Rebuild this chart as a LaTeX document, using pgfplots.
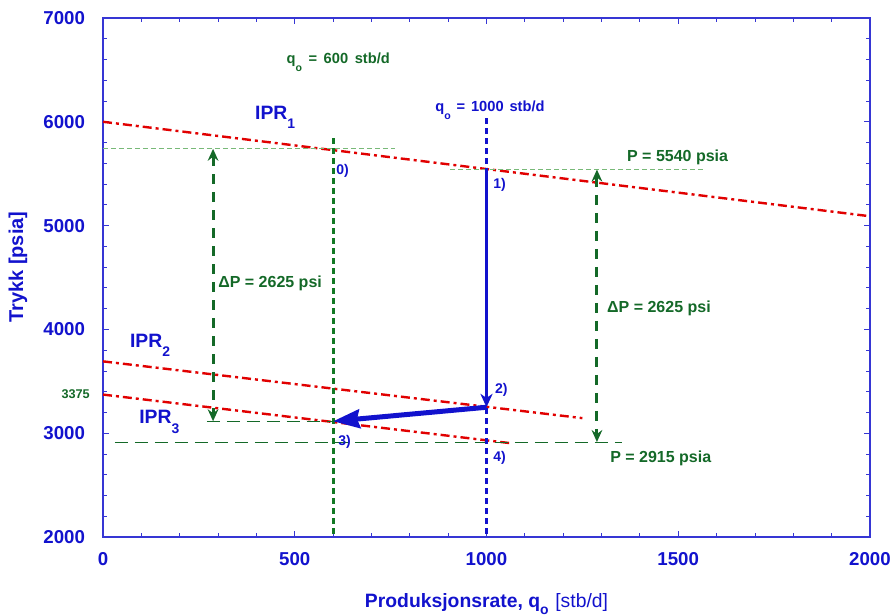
\documentclass[border=0pt]{standalone}
\usepackage{pgfplots}
\pgfplotsset{compat=1.18}
\usepackage{graphicx}
\usepackage{fontspec}
\setmainfont{Liberation Sans}
\usetikzlibrary{arrows.meta}

\definecolor{mblue}{RGB}{18,18,205}
\definecolor{dgreen}{RGB}{20,105,40}
\definecolor{lgreen}{RGB}{120,185,120}
\definecolor{ired}{RGB}{225,0,0}

\newcommand{\sub}[1]{\raisebox{-0.5em}{\scalebox{0.72}{#1}}}
\newcommand{\fs}[1]{\fontsize{#1}{#1}\selectfont\bfseries}

\begin{document}
\begin{tikzpicture}
\begin{axis}[
  scale only axis, width=575.25pt, height=389.25pt,
  xmin=0, xmax=2000, ymin=2000, ymax=7000,
  xtick={0,500,...,2000}, ytick={2000,3000,...,7000},
  minor x tick num=4, minor y tick num=4,
  tick align=inside, major tick length=4.5pt, minor tick length=3pt,
  axis line style={mblue!85, line width=0.8pt},
  every tick/.style={mblue!85, line width=0.6pt},
  /pgf/number format/assume math mode=true,
  /pgf/number format/1000 sep={},
  tick label style={font=\fs{14}, text=mblue},
  xticklabel style={yshift=-8pt},
  yticklabel style={xshift=-10pt},
  xlabel={\fs{14.5}Produksjonsrate, q\raisebox{-0.4em}{\scalebox{0.72}{o}}\hspace{0.35em}\mdseries[stb/d]},
  xlabel style={at={(rel axis cs:0.5,-0.1349)}, anchor=base, text=mblue},
  ylabel={\fs{15}Trykk [psia]},
  ylabel style={at={(rel axis cs:-0.111,0.52)}, anchor=center, text=mblue},
  clip=false,
]
% IPR curves
\addplot[ired, line width=1.8pt, dash pattern=on 6.75pt off 3pt on 2.25pt off 3pt] coordinates {(0,6000) (2000,5090)};
\addplot[ired, line width=1.8pt, dash pattern=on 6.75pt off 3pt on 2.25pt off 3pt] coordinates {(0,3692) (1250,3145)};
\addplot[ired, line width=1.8pt, dash pattern=on 6.75pt off 3pt on 2.25pt off 3pt] coordinates {(0,3372) (1060,2905)};
% helper lines
\addplot[lgreen, line width=0.75pt, dash pattern=on 3.5pt off 2.5pt] coordinates {(0,5740) (761,5740)};
\addplot[lgreen, line width=0.75pt, dash pattern=on 3.5pt off 2.5pt] coordinates {(905,5540) (1570,5540)};
\addplot[dgreen, line width=0.75pt, dash pattern=on 10pt off 5pt] coordinates {(271,3115) (600,3115)};
\addplot[dgreen, line width=0.75pt, dash pattern=on 10pt off 5pt] coordinates {(31,2915) (1353,2915)};
% rate lines
\addplot[dgreen!90!green, line width=2.25pt, dash pattern=on 4.3pt off 3.2pt] coordinates {(600,5840) (600,2000)};
\addplot[mblue, line width=2.25pt, dash pattern=on 4.3pt off 3.2pt] coordinates {(1000,6035) (1000,2000)};
% delta P arrows
\addplot[dgreen, line width=2.25pt, dash pattern=on 7.5pt off 6pt, {Stealth[length=9pt,width=8pt,inset=3pt]}-{Stealth[length=9pt,width=8pt,inset=3pt]}] coordinates {(287,5740) (287,3115)};
\addplot[dgreen, line width=2.25pt, dash pattern=on 7.5pt off 6pt, {Stealth[length=9pt,width=8pt,inset=3pt]}-{Stealth[length=9pt,width=8pt,inset=3pt]}] coordinates {(1288,5540) (1288,2915)};
% path arrows
\addplot[mblue, line width=2.25pt, -{Stealth[length=10pt,width=9pt,inset=3pt]}] coordinates {(1000,5540) (1000,3250)};
\addplot[mblue, line width=3.75pt, -{Stealth[length=20pt,width=14pt,inset=2pt]}] coordinates {(1000,3250) (600,3115)};

% labels
\node[anchor=base west, text=dgreen, font=\fs{11}, inner sep=0pt] at (axis cs:478,6557) {\spaceskip=0.45em q\sub{o} = 600 stb/d};
\node[anchor=base west, text=mblue, font=\fs{11}, inner sep=0pt] at (axis cs:866,6097) {\spaceskip=0.4em q\sub{o} = 1000 stb/d};
\node[anchor=base west, text=mblue, font=\fs{14.5}, inner sep=0pt] at (axis cs:396,6024) {IPR\sub{1}};
\node[anchor=base west, text=mblue, font=\fs{14.5}, inner sep=0pt] at (axis cs:70,3830) {IPR\sub{2}};
\node[anchor=base west, text=mblue, font=\fs{14.5}, inner sep=0pt] at (axis cs:94,3089) {IPR\sub{3}};
\node[anchor=base west, text=mblue, font=\fs{10.5}, inner sep=0pt] at (axis cs:608,5497) {0)};
\node[anchor=base west, text=mblue, font=\fs{10.5}, inner sep=0pt] at (axis cs:1017,5362) {1)};
\node[anchor=base west, text=mblue, font=\fs{10.5}, inner sep=0pt] at (axis cs:1022,3378) {2)};
\node[anchor=base west, text=mblue, font=\fs{10.5}, inner sep=0pt] at (axis cs:613,2886) {3)};
\node[anchor=base west, text=mblue, font=\fs{10.5}, inner sep=0pt] at (axis cs:1017,2732) {4)};
\node[anchor=base west, text=dgreen, font=\fs{12}, inner sep=0pt] at (axis cs:1366,5622) {P = 5540 psia};
\node[anchor=base west, text=dgreen, font=\fs{12}, inner sep=0pt] at (axis cs:1322,2713) {P = 2915 psia};
\node[anchor=base west, text=dgreen, font=\fs{12}, inner sep=0pt] at (axis cs:1314,4158) {ΔP = 2625 psi};
\node[anchor=base west, text=dgreen, font=\fs{12}, inner sep=0pt] at (axis cs:300,4408) {ΔP = 2625 psi};
\node[anchor=base east, text=dgreen, font=\fs{9.5}, inner sep=0pt, xshift=-9.75pt] at (axis cs:0,3330) {3375};
\end{axis}
\pgfresetboundingbox
\path[use as bounding box] (-77.25pt,-59.25pt) rectangle (593.25pt,402.75pt);
\end{tikzpicture}
\end{document}
